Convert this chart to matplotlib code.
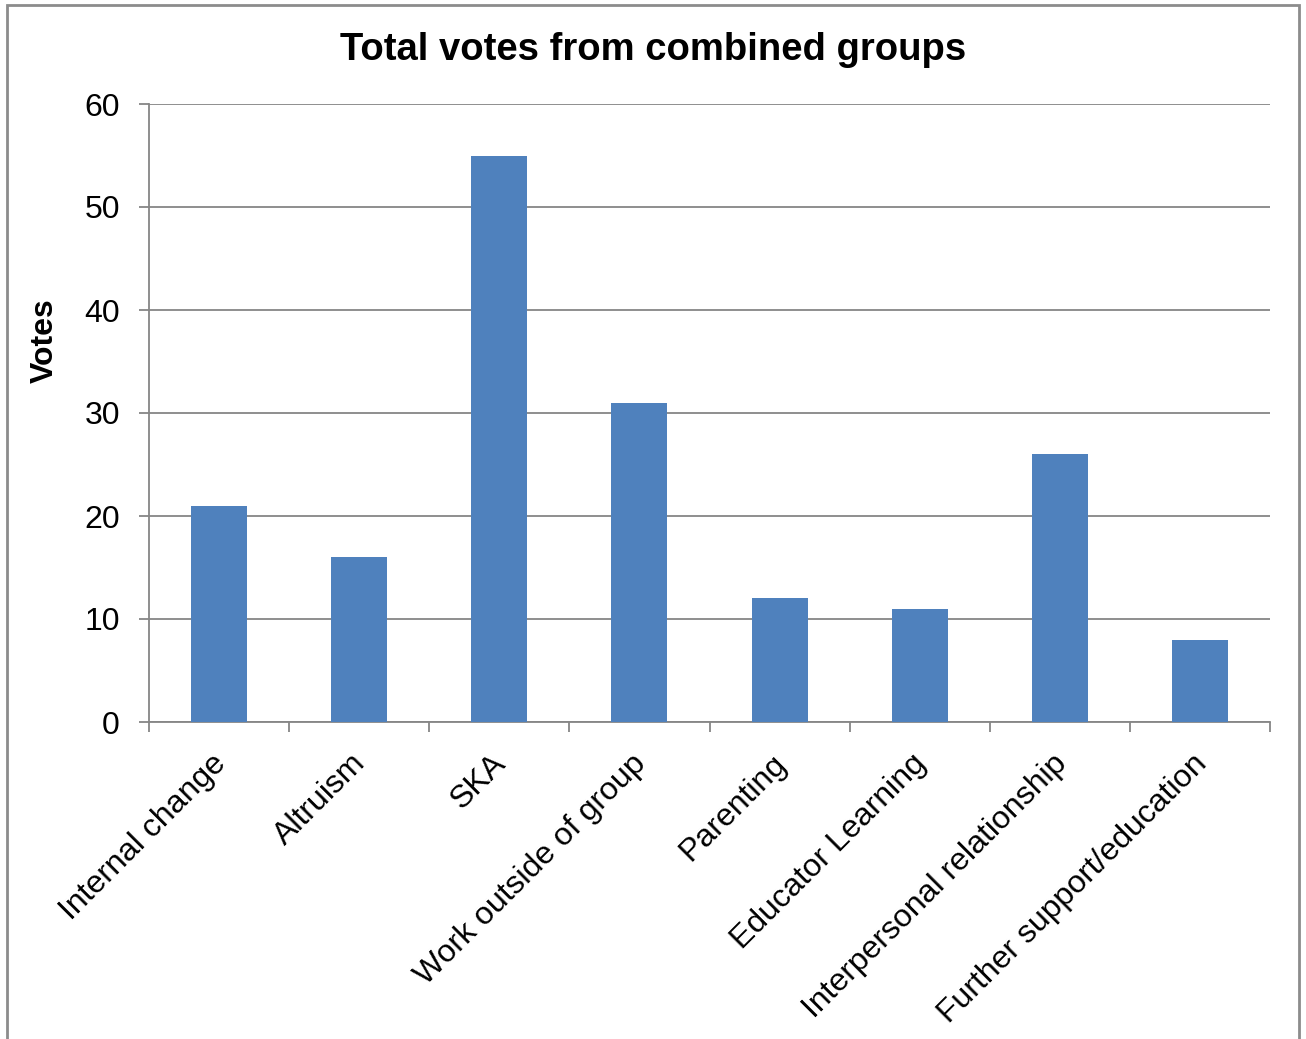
import matplotlib
matplotlib.use("Agg")
import matplotlib.pyplot as plt
import matplotlib.transforms as mtransforms
from matplotlib.patches import Rectangle
import numpy as np

categories = ["Internal change", "Altruism", "SKA", "Work outside of group",
              "Parenting", "Educator Learning", "Interpersonal relationship",
              "Further support/education"]
votes = [21, 16, 55, 31, 12, 11, 26, 8]
y_ticks = [0, 10, 20, 30, 40, 50, 60]

plt.rcParams['font.family'] = ['Liberation Sans', 'DejaVu Sans']

W, H = 1306, 1039
fig = plt.figure(figsize=(W/100, H/100), dpi=100)
ax = fig.add_axes([149/W, 1-722/H, (1270-149)/W, (722-104)/H])

grey = '#868686'
x = np.arange(len(categories))
ax.bar(x, votes, width=0.4, color='#4F81BD', zorder=3)
ax.set_xlim(-0.5, len(categories)-0.5)
ax.set_ylim(0, 60)
ax.set_yticks(y_ticks)
ax.yaxis.grid(True, color=grey, linewidth=1.3, zorder=0)
ax.set_axisbelow(True)
for s in ['top', 'right']:
    ax.spines[s].set_visible(False)
for s in ['left', 'bottom']:
    ax.spines[s].set_color(grey)
    ax.spines[s].set_linewidth(1.3)
ax.tick_params(axis='y', length=7, width=1.3, color=grey, labelsize=23, pad=14)
ax.set_xticks(x)
ax.set_xticks(np.arange(-0.5, len(categories), 1.0), minor=True)
ax.tick_params(axis='x', which='major', length=0, labelsize=23, pad=19)
ax.tick_params(axis='x', which='minor', length=7, width=1.3, color=grey)
ax.set_xticklabels(categories, rotation=45, ha='right', va='top', rotation_mode='anchor')
for lbl in ax.get_xticklabels():
    lbl.set_transform(lbl.get_transform() + mtransforms.ScaledTranslation(-6/72, 0, fig.dpi_scale_trans))

ax.set_ylabel('Votes', fontsize=23, fontweight='bold')
ax.yaxis.set_label_coords((60-149)/(1270-149), (722-341)/(722-104))
fig.text(653/W, 1-50/H, 'Total votes from combined groups', ha='center', va='center',
         fontsize=27.5, fontweight='bold')

fig.patches.append(Rectangle((7/W, -0.05), (1299-7)/W, 1-5/H+0.05, transform=fig.transFigure,
                             fill=False, edgecolor='#8c8c8c', linewidth=2))

fig.savefig('out.png', dpi=100, facecolor='white')
